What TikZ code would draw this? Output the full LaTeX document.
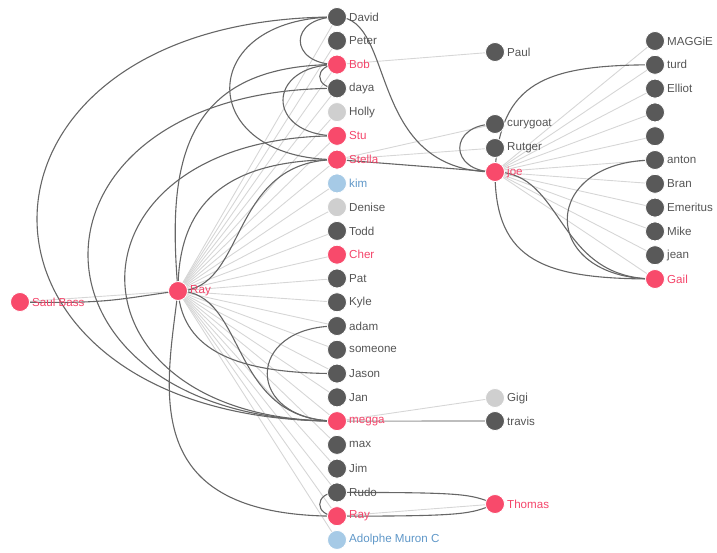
\documentclass[tikz,border=0pt]{standalone}
\usepackage{fontspec}
\setmainfont{Liberation Sans}
\usetikzlibrary{backgrounds}
\definecolor{ngray}{HTML}{595959}
\definecolor{nred}{HTML}{F84A6B}
\definecolor{nlight}{HTML}{CFCFCF}
\definecolor{nblue}{HTML}{A6CAE6}
\definecolor{tgray}{HTML}{555555}
\definecolor{tred}{HTML}{F4456A}
\definecolor{tlight}{HTML}{555555}
\definecolor{tblue}{HTML}{5F97C8}
\definecolor{linkdark}{HTML}{666666}
\definecolor{linkmid}{HTML}{9A9A9A}
\definecolor{linklight}{HTML}{D6D6D6}

\tikzset{
  person/.style={circle, inner sep=0pt, minimum size=19pt, fill=n#1, draw=white, line width=0.8pt},
  plabel/.style={anchor=west, inner sep=0pt, text=t#1, font=\fontsize{11.6}{13}\selectfont},
  tie/.style={draw=linkdark, line width=1.1pt},
  weak/.style={draw=linklight, line width=0.9pt},
}

\begin{document}
\begin{tikzpicture}[x=1pt,y=-1pt]
  \useasboundingbox (0,0) rectangle (717,552);
  \def\colA{337}
  \def\colB{495}
  \def\colC{655}
  \def\leftcol{david,peter,bob,daya,holly,stu,stella,kim,denise,todd,cher,pat,kyle,adam,someone,jason,jan,megga,max,jim,rudo,rayb,adolphe}
  \def\rightcol{maggie,turd,elliot,blanka,blankb,anton,bran,emeritus,mike,jean,gail}

  % left column
  \foreach \n/\lab/\k [count=\i from 0] in {david/David/gray, peter/Peter/gray, bob/Bob/red,
      daya/daya/gray, holly/Holly/light, stu/Stu/red, stella/Stella/red, kim/kim/blue,
      denise/Denise/light, todd/Todd/gray, cher/Cher/red, pat/Pat/gray, kyle/Kyle/gray,
      adam/adam/gray, someone/someone/gray, jason/Jason/gray, jan/Jan/gray, megga/megga/red,
      max/max/gray, jim/Jim/gray, rudo/Rudo/gray, rayb/Ray/red, adolphe/Adolphe Muron C/blue}{
    \node[person=\k] (\n) at (\colA, {17+23.77*\i}) {};
    \node[plabel=\k] (\n-t) at ([xshift=12pt]\n.center) {\lab};
  }

  % right column
  \foreach \n/\lab/\k [count=\i from 0] in {maggie/MAGGiE/gray, turd/turd/gray, elliot/Elliot/gray,
      blanka//gray, blankb//gray, anton/anton/gray, bran/Bran/gray, emeritus/Emeritus/gray,
      mike/Mike/gray, jean/jean/gray, gail/Gail/red}{
    \node[person=\k] (\n) at (\colC, {41+23.8*\i}) {};
    \node[plabel=\k] (\n-t) at ([xshift=12pt]\n.center) {\lab};
  }

  % middle and left nodes
  \foreach \n/\lab/\k/\x/\y in {paul/Paul/gray/\colB/52, cury/curygoat/gray/\colB/124,
      rutger/Rutger/gray/\colB/148, joe/joe/red/\colB/172, gigi/Gigi/light/\colB/398,
      travis/travis/gray/\colB/421, thomas/Thomas/red/\colB/504,
      saul/Saul Bass/red/20/302, ray/Ray/red/178/291}{
    \node[person=\k] (\n) at (\x,\y) {};
    \node[plabel=\k] (\n-t) at ([xshift=12pt]\n.center) {\lab};
  }

  \begin{scope}[on background layer]
    % weak links
    \foreach \n in \leftcol
      \draw[weak] (ray.center) -- (\n.center);
    \foreach \n in \rightcol
      \draw[weak] (joe.center) -- (\n.center);
    \draw[weak] (saul.center) -- (ray.center);
    \draw[weak] (bob.center) -- (paul.center);
    \draw[weak] (stella.center) -- (cury.center);
    \draw[weak] (stella.center) -- (rutger.center);
    \draw[weak] (megga.center) -- (gigi.center);
    \draw[weak] (rayb.center) -- (thomas.center);
    \draw[tie, draw=linkmid] (megga.center) -- (travis.center);

    % strong links
    \draw[tie] (saul.center) .. controls +(90,2) and +(-60,8) .. (ray.center);
    \draw[tie] (david.center) .. controls +(-400,0) and +(-400,0) .. (megga.center);
    \draw[tie] (daya.center) .. controls +(-332,0) and +(-332,0) .. (megga.center);
    \draw[tie] (stu.center) .. controls +(-283,0) and +(-283,0) .. (megga.center);
    \draw[tie] (david.center) .. controls +(-143,0) and +(-143,0) .. (stella.center);
    \draw[tie] (david.center) .. controls +(-49,0) and +(-49,0) .. (bob.center);
    \draw[tie] (bob.center) .. controls +(-23,0) and +(-23,0) .. (daya.center);
    \draw[tie] (bob.center) .. controls +(-72,0) and +(-72,0) .. (stu.center);
    \draw[tie] (adam.center) .. controls +(-93,0) and +(-93,0) .. (megga.center);
    \draw[tie] (rudo.center) .. controls +(-23,0) and +(-23,0) .. (rayb.center);
    \draw[tie] (ray.center) .. controls +(-10,-120) and +(-160,0) .. (bob.center);
    \draw[tie] (ray.center) .. controls +(-12,100) and +(-200,0) .. (rayb.center);
    \draw[tie] (ray.center) .. controls +(0,-80) and +(-120,0) .. (stella.center);
    \draw[tie] (ray.center) .. controls +(70,0) and +(-110,0) .. (stella.center);
    \draw[tie] (ray.center) .. controls +(70,0) and +(-110,0) .. (megga.center);
    \draw[tie] (ray.center) .. controls +(5,60) and +(-100,0) .. (jason.center);
    \draw[tie] (david.center) .. controls +(60,0) and +(-130,0) .. (joe.center);
    \draw[tie] (stella.center) -- (joe.center);
    \draw[tie] (joe.center) .. controls +(5,-90) and +(-110,0) .. (turd.center);
    \draw[tie] (cury.center) .. controls +(-47,0) and +(-47,0) .. (joe.center);
    \draw[tie] (joe.center) .. controls +(0,90) and +(-110,0) .. (gail.center);
    \draw[tie] (joe.center) .. controls +(70,0) and +(-100,0) .. (gail.center);
    \draw[tie] (anton.center) .. controls +(-117,0) and +(-117,0) .. (gail.center);
    \draw[tie] (rudo.center) .. controls +(130,0) and +(-25,-10) .. (thomas.center);
    \draw[tie] (rayb.center) .. controls +(130,0) and +(-25,10) .. (thomas.center);
  \end{scope}
\end{tikzpicture}
\end{document}
